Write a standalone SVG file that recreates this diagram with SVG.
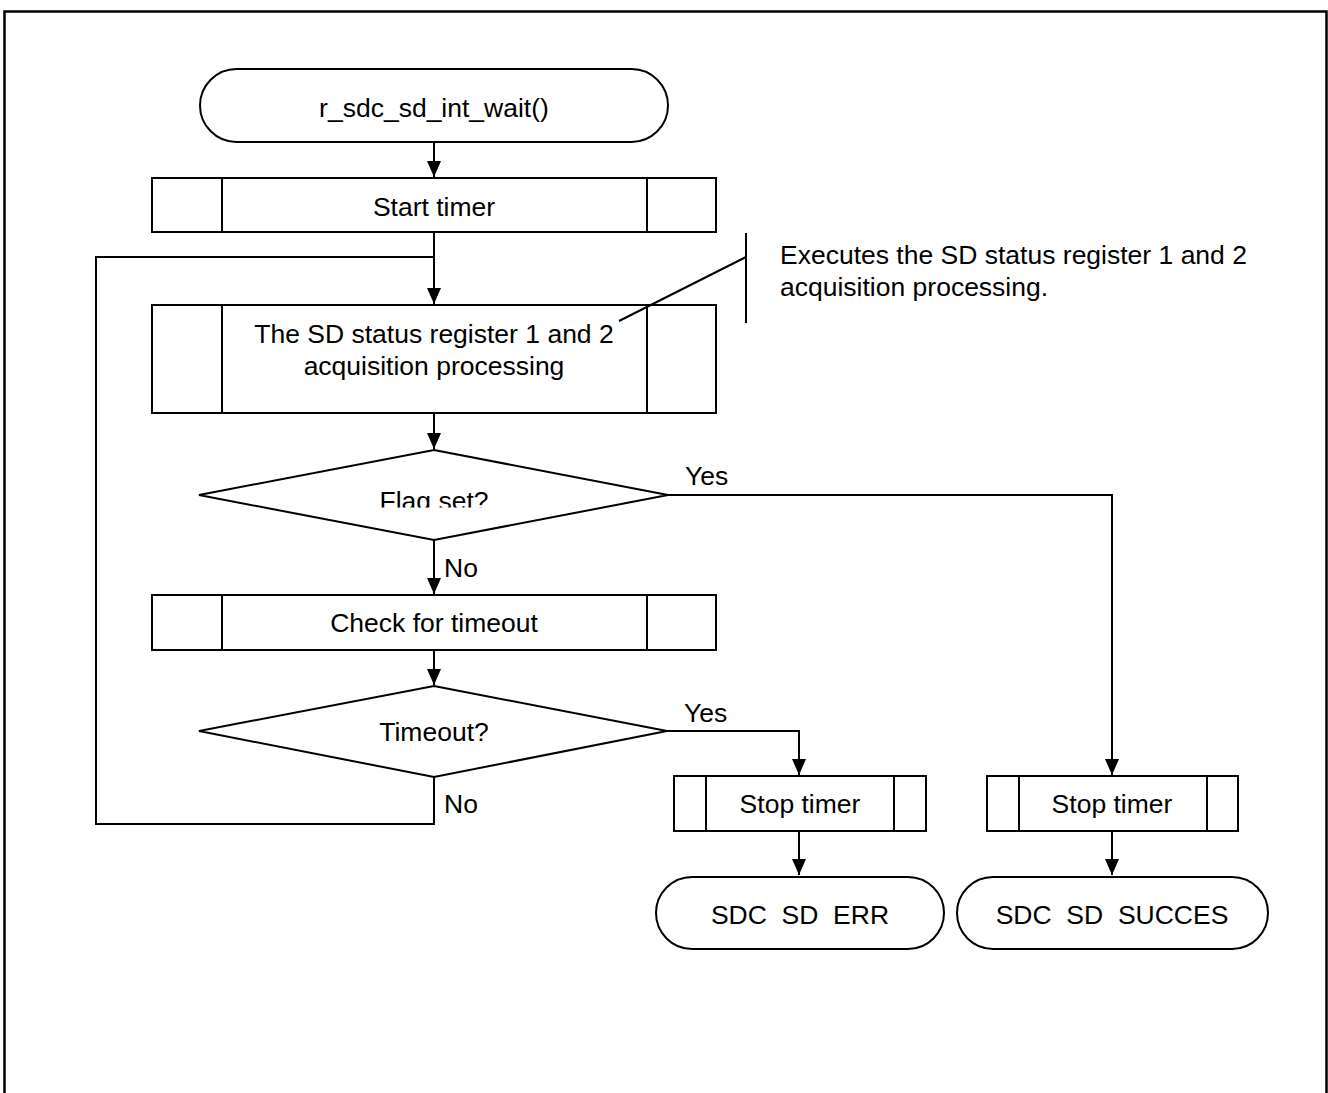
<svg xmlns="http://www.w3.org/2000/svg" width="1328" height="1093" viewBox="0 0 1328 1093">
<style>
.s{fill:#fff;stroke:#000;stroke-width:2}
.l{fill:none;stroke:#000;stroke-width:2}
.t{font-family:"Liberation Sans",Arial,sans-serif;font-size:26.5px;fill:#000;white-space:pre}
.c{text-anchor:middle}
</style>
<defs>
<marker id="ah" markerWidth="16" markerHeight="14" refX="16" refY="7" orient="auto" markerUnits="userSpaceOnUse">
<path d="M0,0 L16,7 L0,14 Z" fill="#000"/>
</marker>
<clipPath id="flagclip"><rect x="300" y="470" width="270" height="37.5"/></clipPath>
</defs>
<rect x="0" y="0" width="1328" height="1093" fill="#fff"/>
<rect x="4.5" y="11.5" width="1322" height="1100" fill="none" stroke="#000" stroke-width="2.5"/>

<g id="connectors">
<line class="l" x1="434" y1="142" x2="434" y2="177" marker-end="url(#ah)"/>
<line class="l" x1="434" y1="232" x2="434" y2="304" marker-end="url(#ah)"/>
<line class="l" x1="434" y1="413" x2="434" y2="449" marker-end="url(#ah)"/>
<line class="l" x1="434" y1="540" x2="434" y2="594" marker-end="url(#ah)"/>
<line class="l" x1="434" y1="650" x2="434" y2="685" marker-end="url(#ah)"/>
<polyline class="l" points="434,777 434,824 96,824 96,257 434,257"/>
<polyline class="l" points="668,495 1112,495 1112,775" marker-end="url(#ah)"/>
<polyline class="l" points="667,731 799,731 799,775" marker-end="url(#ah)"/>
<line class="l" x1="799" y1="831" x2="799" y2="875" marker-end="url(#ah)"/>
<line class="l" x1="1112" y1="831" x2="1112" y2="875" marker-end="url(#ah)"/>
<text class="t" x="685" y="485">Yes</text>
<text class="t" x="444" y="577">No</text>
<text class="t" x="684" y="722">Yes</text>
<text class="t" x="444" y="813">No</text>
</g>

<g id="start">
<rect class="s" x="200" y="69" width="468" height="73" rx="36.5" ry="36.5"/>
<text class="t c" x="434" y="117">r_sdc_sd_int_wait()</text>
</g>

<g id="start-timer">
<rect class="s" x="152" y="178" width="564" height="54"/>
<line class="l" x1="222" y1="178" x2="222" y2="232"/>
<line class="l" x1="647" y1="178" x2="647" y2="232"/>
<text class="t c" x="434" y="216">Start timer</text>
</g>

<g id="status-acq">
<rect class="s" x="152" y="305" width="564" height="108"/>
<line class="l" x1="222" y1="305" x2="222" y2="413"/>
<line class="l" x1="647" y1="305" x2="647" y2="413"/>
<text class="t c" x="434" y="343">The SD status register 1 and 2</text>
<text class="t c" x="434" y="375">acquisition processing</text>
</g>

<g id="annotation">
<line class="l" x1="746" y1="233" x2="746" y2="323"/>
<line class="l" x1="746" y1="257" x2="619" y2="321" stroke-width="1.5"/>
<text class="t" x="780" y="264">Executes the SD status register 1 and 2</text>
<text class="t" x="780" y="296">acquisition processing.</text>
</g>

<g id="flag-set">
<polygon class="s" points="434,450 668,495 434,540 199,495"/>
<text class="t c" x="434" y="510" clip-path="url(#flagclip)">Flag set?</text>
</g>

<g id="check-timeout">
<rect class="s" x="152" y="595" width="564" height="55"/>
<line class="l" x1="222" y1="595" x2="222" y2="650"/>
<line class="l" x1="647" y1="595" x2="647" y2="650"/>
<text class="t c" x="434" y="632">Check for timeout</text>
</g>

<g id="timeout">
<polygon class="s" points="434,686 667,731 434,777 199,731"/>
<text class="t c" x="434" y="741">Timeout?</text>
</g>

<g id="stop-timer-err">
<rect class="s" x="674" y="776" width="252" height="55"/>
<line class="l" x1="706" y1="776" x2="706" y2="831"/>
<line class="l" x1="894" y1="776" x2="894" y2="831"/>
<text class="t c" x="800" y="813">Stop timer</text>
</g>

<g id="stop-timer-ok">
<rect class="s" x="987" y="776" width="251" height="55"/>
<line class="l" x1="1019" y1="776" x2="1019" y2="831"/>
<line class="l" x1="1207" y1="776" x2="1207" y2="831"/>
<text class="t c" x="1112" y="813">Stop timer</text>
</g>

<g id="end-err">
<rect class="s" x="656" y="877" width="288" height="72" rx="36" ry="36"/>
<text class="t c" x="800" y="924">SDC  SD  ERR</text>
</g>

<g id="end-ok">
<rect class="s" x="957" y="877" width="311" height="72" rx="36" ry="36"/>
<text class="t c" x="1112" y="924">SDC  SD  SUCCES</text>
</g>
</svg>
